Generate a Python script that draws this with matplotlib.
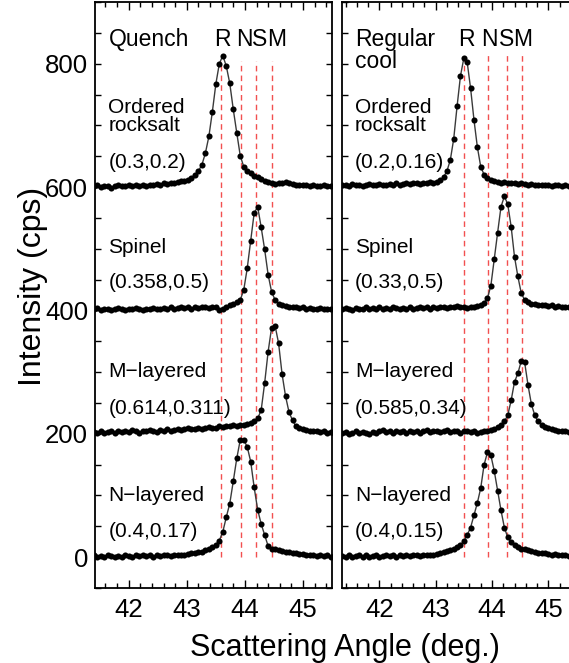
import numpy as np
import matplotlib.pyplot as plt
from matplotlib.ticker import MultipleLocator

plt.rcParams['font.family'] = ['Liberation Sans', 'DejaVu Sans']

# scan grid: 2-theta from 41.34 deg in 0.06 deg steps (71 points)
two_theta = np.round(41.34 + 0.06 * np.arange(71), 2)

# intensities above background (cps); stacks are shifted by 0/200/400/600
q_rock = [2, 1, 3, 0, 2, 1, -1, 2, 3, 1,
          2, 4, 2, 3, 1, 3, 2, 4, 3, 5,
          4, 6, 5, 7, 6, 8, 9, 10, 12, 15,
          20, 26, 36, 55, 82, 122, 167, 200, 213, 196,
          168, 126, 88, 51, 33, 26, 22, 18, 16, 13,
          10, 8, 7, 5, 6, 7, 8, 6, 5, 4,
          3, 4, 3, 2, 3, 2, 1, 3, 2, 1, 2]
q_spin = [3, 2, 4, 1, 3, 2, 0, 2, 4, 3,
          1, 3, 2, 4, 3, 1, 3, 2, 4, 3,
          2, 4, 3, 5, 3, 4, 6, 4, 5, 3,
          5, 4, 6, 5, 4, 6, 5, 1, 3, 6,
          8, 10, 13, 17, 33, 68, 113, 158, 168, 135,
          99, 58, 30, 17, 11, 8, 7, 6, 5, 6,
          4, 5, 3, 4, 2, 3, 4, 2, 3, 2, 3]
q_mlay = [2, 3, 1, 4, 2, 3, 5, 2, 4, 3,
          5, 3, 6, 4, 2, 5, 4, 6, 5, 3,
          6, 5, 7, 5, 6, 8, 6, 7, 9, 7,
          8, 10, 8, 9, 11, 9, 10, 12, 11, 13,
          12, 14, 13, 15, 14, 16, 17, 20, 25, 38,
          82, 133, 172, 175, 147, 97, 61, 35, 22, 12,
          9, 8, 6, 5, 4, 5, 3, 4, 2, 3, 2]
q_nlay = [1, 3, 0, 2, 1, 3, 2, 0, 2, 1,
          3, 2, 1, 3, 2, 4, 2, 3, 1, 3,
          2, 4, 3, 2, 4, 3, 4, 4, 5, 6,
          7, 8, 9, 11, 13, 16, 20, 27, 41, 65,
          87, 123, 160, 190, 190, 179, 155, 113, 77, 54,
          36, 18, 14, 13, 11, 10, 9, 8, 7, 6,
          5, 5, 4, 3, 4, 2, 3, 2, 3, 1, 2]

r_rock = [3, 4, 2, 5, 3, 4, 2, 3, 5, 4,
          3, 5, 4, 3, 5, 4, 6, 4, 5, 6,
          5, 7, 6, 5, 7, 6, 8, 7, 8, 11,
          16, 26, 44, 78, 131, 180, 209, 202, 160, 109,
          65, 33, 20, 14, 11, 9, 8, 7, 8, 6,
          7, 6, 5, 6, 5, 4, 5, 4, 3, 4,
          3, 4, 2, 3, 4, 2, 3, 2, 3, 2, 3]
r_spin = [2, 4, 3, 1, 4, 2, 3, 5, 2, 4,
          3, 5, 2, 4, 3, 5, 4, 2, 4, 3,
          5, 3, 4, 6, 4, 5, 3, 5, 4, 6,
          5, 4, 6, 5, 7, 5, 6, 4, 6, 6,
          7, 9, 12, 20, 40, 83, 126, 168, 185, 172,
          136, 87, 55, 28, 17, 13, 11, 10, 9, 8,
          8, 7, 8, 6, 7, 5, 6, 5, 6, 4, 5]
r_mlay = [1, 3, 0, 2, 4, 1, 3, 2, 0, 3,
          2, 4, 6, 3, 5, 2, 4, 3, 5, 2,
          4, 3, 5, 2, 4, 6, 3, 4, 5, 3,
          4, 6, 3, 5, 4, 2, 4, 5, 3, 4,
          2, 3, 5, 4, 6, 8, 11, 14, 20, 30,
          54, 84, 98, 118, 116, 79, 48, 30, 20, 14,
          11, 9, 7, 6, 5, 4, 5, 3, 4, 3, 2]
r_nlay = [2, 0, 3, 1, 2, 4, 1, 3, 0, 2,
          3, 1, 2, 4, 2, 3, 1, 3, 2, 4,
          2, 3, 4, 2, 3, 4, 3, 4, 5, 6,
          8, 10, 12, 14, 16, 20, 26, 36, 48, 68,
          88, 112, 150, 170, 165, 140, 108, 76, 48, 32,
          24, 19, 16, 14, 13, 11, 10, 8, 7, 6,
          6, 5, 4, 5, 3, 4, 3, 2, 3, 2, 3]

offsets = [0, 200, 400, 600]
phase_names = ['N\u2212layered', 'M\u2212layered', 'Spinel', 'Ordered\nrocksalt']
q_params = ['(0.4,0.17)', '(0.614,0.311)', '(0.358,0.5)', '(0.3,0.2)']
r_params = ['(0.4,0.15)', '(0.585,0.34)', '(0.33,0.5)', '(0.2,0.16)']

# reference peak positions R, N, S, M
q_marks = [43.59, 43.93, 44.19, 44.46]
r_marks = [43.51, 43.93, 44.27, 44.54]
mark_letters = ['R', 'N', 'S', 'M']
q_letter_x = [43.62, 43.985, 44.26, 44.55]
r_letter_x = [43.55, 43.95, 44.26, 44.545]

name_y = [100.6, 300.2, 501.4, 714]
par_y = [41, 241.8, 444.6, 639.4]

fig = plt.figure(figsize=(5.69, 6.63), dpi=100)
ax_q = fig.add_axes([0.167, 0.1131, 0.4165, 0.8839])
ax_r = fig.add_axes([0.6005, 0.1131, 0.4165, 0.8839])

panels = [
    (ax_q, [q_nlay, q_mlay, q_spin, q_rock], q_params, q_marks, q_letter_x,
     'Quench', 839, (41.42, 45.50), 41.65, 805),
    (ax_r, [r_nlay, r_mlay, r_spin, r_rock], r_params, r_marks, r_letter_x,
     'Regular\ncool', 821, (41.33, 45.54), 41.566, 818),
]

for ax, curves, params, marks, letter_x, title, title_y, xlim, tx, vtop in panels:
    for off, y in zip(offsets, curves):
        yy = np.array(y) + off
        ax.plot(two_theta, yy, color='#3a3a3a', lw=1.0, zorder=2)
        ax.plot(two_theta, yy, 'o', color='black', ms=4.4, mew=0, zorder=3)

    ax.vlines(marks, 0, vtop, colors='#f25050', linestyles=(0, (4, 3)), lw=1.0, zorder=1)
    for lx, let in zip(letter_x, mark_letters):
        ax.text(lx, 839, let, ha='center', va='center', fontsize=16.5)

    ax.text(tx, title_y, title, ha='left', va='center', fontsize=16.5, linespacing=0.95)

    # phase labels and composition pairs
    for name, ny, par, py in zip(phase_names, name_y, params, par_y):
        ax.text(tx, ny, name, ha='left', va='center', fontsize=15, linespacing=0.9)
        ax.text(tx, py, par, ha='left', va='center', fontsize=15)

    ax.set_xlim(*xlim)
    ax.set_ylim(-50, 900)
    ax.xaxis.set_major_locator(MultipleLocator(1))
    ax.xaxis.set_minor_locator(MultipleLocator(0.2))
    ax.yaxis.set_major_locator(MultipleLocator(200))
    ax.yaxis.set_minor_locator(MultipleLocator(50))
    ax.tick_params(which='both', direction='in', top=True, right=True,
                   width=1.0, labelsize=18.5, colors='black')
    ax.tick_params(axis='x', which='major', length=5.5, pad=7)
    ax.tick_params(axis='x', which='minor', length=3.5)
    ax.tick_params(axis='y', which='both', length=4, pad=5)
    for sp in ax.spines.values():
        sp.set_linewidth(1.3)

ax_r.tick_params(axis='y', labelleft=False)

fig.text(0.606, 0.0106, 'Scattering Angle (deg.)', ha='center', va='baseline', fontsize=22)
fig.text(0.058, 0.568, 'Intensity (cps)', ha='center', va='center',
         rotation=90, fontsize=23)

fig.savefig('out.png', dpi=100)
